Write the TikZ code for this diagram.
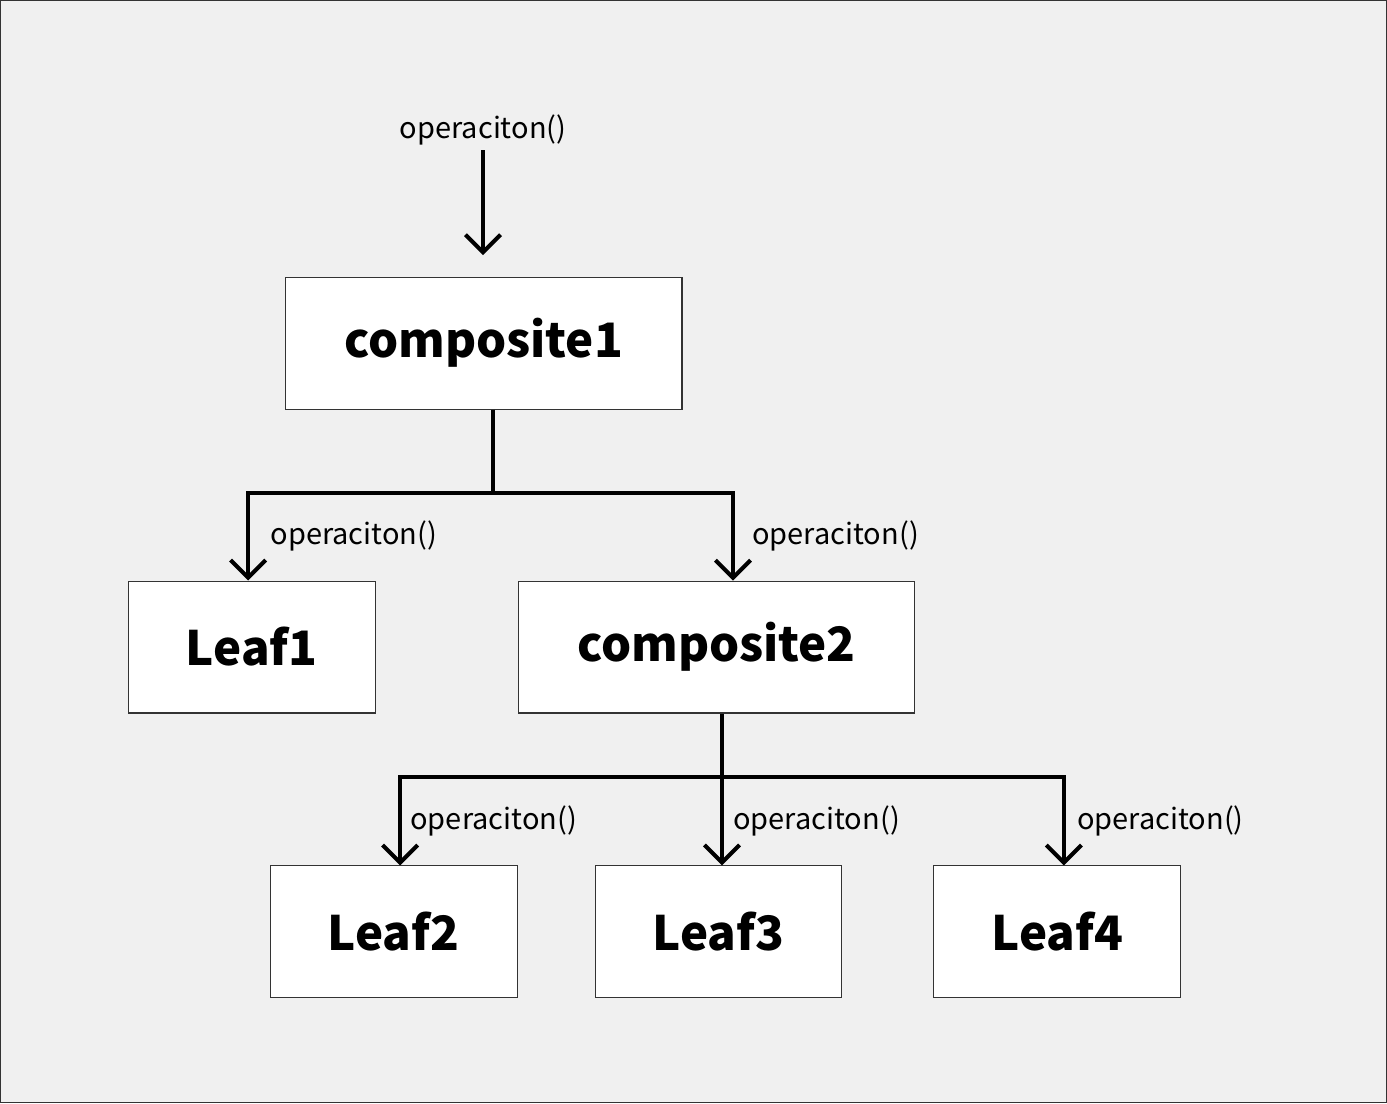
\documentclass[tikz,border=0pt]{standalone}
\usepackage{fontspec}
\setmainfont{Noto Sans CJK SC}
\usetikzlibrary{arrows.meta}
\begin{document}
\begin{tikzpicture}[x=0.02cm,y=-0.02cm,
  box/.style={draw=black!80,line width=0.6pt,fill=white,minimum width=247*0.02cm,minimum height=132*0.02cm,inner sep=0,font=\fontsize{27}{30}\selectfont\bfseries},
  wide/.style={box,minimum width=397*0.02cm},
  lbl/.style={font=\fontsize{16.5}{19}\selectfont,inner sep=0},
  conn/.style={line width=2.3pt},
  arr/.style={conn,-{Straight Barb[length=10pt,width=20pt,line width=2.3pt]}}]
\fill[fill={rgb,255:red,240;green,240;blue,240},draw=black!80,line width=0.8pt] (0.5,0.5) rectangle (1386.5,1102.5);
\useasboundingbox (0,0) rectangle (1387,1103);
\node[wide] (c1) at (483.5,343) {composite1};
\node[box] (l1) at (251.5,647) {Leaf1};
\node[wide] (c2) at (716.5,647) {composite2};
\node[box] (l2) at (393.5,932) {Leaf2};
\node[box] (l3) at (718.5,932) {Leaf3};
\node[box] (l4) at (1057.5,932) {Leaf4};
\node[lbl] (t0) at (483,130) {operaciton()};
\coordinate (top) at (483,150);
\draw[arr] (top) -- (483,255);
\coordinate (j1) at (493,493);
\draw[conn] (c1.south -| j1) -- (j1);
\draw[arr] (j1) -| (l1.north -| 248,0);
\draw[arr] (j1) -| (c2.north -| 733,0);
\node[lbl,anchor=west] (t1) at (270,536) {operaciton()};
\node[lbl,anchor=west] (t2) at (752,536) {operaciton()};
\coordinate (j2) at (722,777);
\draw[conn] (c2.south -| j2) -- (j2);
\draw[arr] (j2) -| (l2.north -| 400,0);
\draw[arr] (j2) -- (l3.north -| j2);
\draw[arr] (j2) -| (l4.north -| 1064,0);
\node[lbl,anchor=west] (t3) at (410,821) {operaciton()};
\node[lbl,anchor=west] (t4) at (733,821) {operaciton()};
\node[lbl,anchor=west] (t5) at (1077,821) {operaciton()};
\end{tikzpicture}
\end{document}
